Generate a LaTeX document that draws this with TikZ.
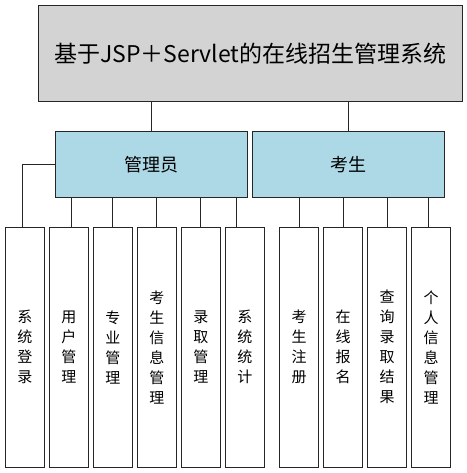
\documentclass[tikz,border=0pt]{standalone}
\usepackage{fontspec}
\setmainfont{Noto Sans CJK SC}
\begin{document}
\begin{tikzpicture}[x=1pt,y=-1pt,
  box/.style={draw=black!85,line width=1pt,inner sep=0pt,anchor=north west},
  topbox/.style={box,fill={rgb,255:red,211;green,211;blue,211},minimum width=423.4pt,minimum height=95.7pt,font=\fontsize{23}{26}\selectfont},
  midbox/.style={box,fill={rgb,255:red,173;green,216;blue,230},minimum width=192pt,minimum height=66.6pt,font=\fontsize{18}{20}\selectfont},
  leafbox/.style={box,fill=white,minimum width=38.7pt,minimum height=240pt,align=center,font=\fontsize{15}{20}\selectfont},
  link/.style={draw=black!85,line width=1pt}]
\useasboundingbox (0,0) rectangle (466,473);
\node[topbox] (title) at (38.3,5) {基于JSP＋Servlet的在线招生管理系统};
\node[midbox] (admin) at (55,130.7) {管理员};
\node[midbox] (stu) at (252.3,130.7) {考生};
\node[leafbox] (l1) at (5,226.7) {系\\统\\登\\录};
\node[leafbox] (l2) at (49,226.7) {用\\户\\管\\理};
\node[leafbox] (l3) at (93,226.7) {专\\业\\管\\理};
\node[leafbox] (l4) at (137,226.7) {考\\生\\信\\息\\管\\理};
\node[leafbox] (l5) at (181,226.7) {录\\取\\管\\理};
\node[leafbox] (l6) at (225,226.7) {系\\统\\统\\计};
\node[leafbox] (l7) at (279.3,226.7) {考\\生\\注\\册};
\node[leafbox] (l8) at (323.3,226.7) {在\\线\\报\\名};
\node[leafbox] (l9) at (367.3,226.7) {查\\询\\录\\取\\结\\果};
\node[leafbox] (l10) at (411.3,226.7) {个\\人\\信\\息\\管\\理};
\draw[link] (admin.north) -- (admin.north |- title.south);
\draw[link] (stu.north) -- (stu.north |- title.south);
\draw[link] (admin.west) -| ([xshift=-2pt]l1.north);
\draw[link] ([xshift=2.7pt]l2.north) -- ([xshift=2.7pt]l2.north |- admin.south);
\draw[link] (l3.north) -- (l3.north |- admin.south);
\draw[link] (l4.north) -- (l4.north |- admin.south);
\draw[link] (l5.north) -- (l5.north |- admin.south);
\draw[link] ([xshift=-8.3pt]l6.north) -- ([xshift=-8.3pt]l6.north |- admin.south);
\draw[link] (l7.north) -- (l7.north |- stu.south);
\draw[link] (l8.north) -- (l8.north |- stu.south);
\draw[link] (l9.north) -- (l9.north |- stu.south);
\draw[link] ([xshift=-2.5pt]l10.north) -- ([xshift=-2.5pt]l10.north |- stu.south);
\end{tikzpicture}
\end{document}
